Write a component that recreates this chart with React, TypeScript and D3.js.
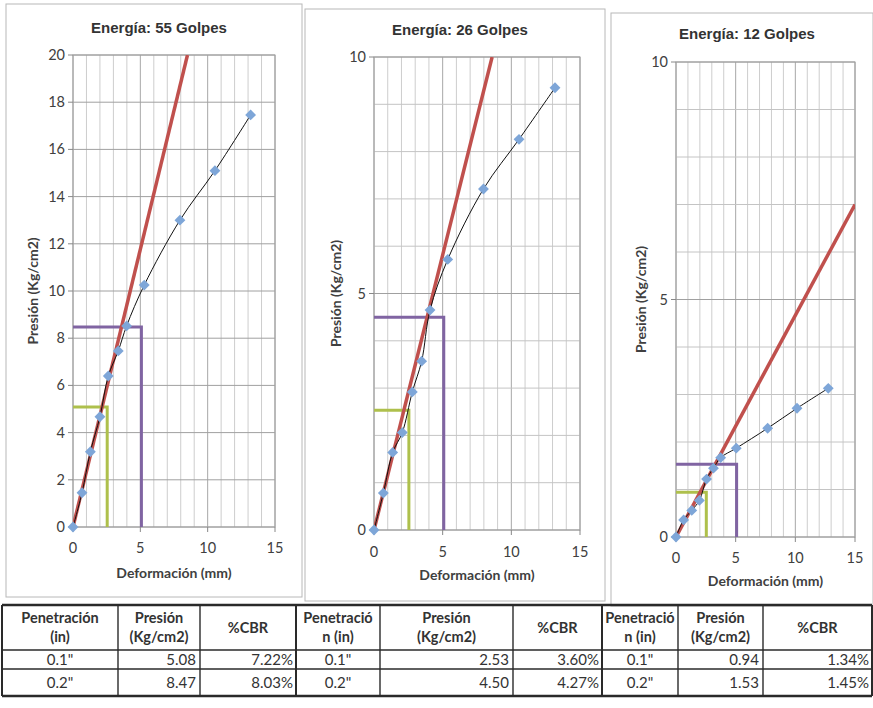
import React from "react";
import * as d3 from "d3";

// ---------- data ----------
const xTicks = [0, 5, 10, 15];

const titles = ["Energía: 55 Golpes", "Energía: 26 Golpes", "Energía: 12 Golpes"];

const def55 = [0, 0.67, 1.29, 2.0, 2.62, 3.36, 3.98, 5.29, 7.94, 10.54, 13.19];
const pres55 = [0, 1.45, 3.19, 4.67, 6.4, 7.46, 8.52, 10.25, 13.0, 15.1, 17.46];

const def26 = [0, 0.68, 1.36, 2.06, 2.79, 3.47, 4.08, 5.37, 7.97, 10.56, 13.18];
const pres26 = [0, 0.78, 1.64, 2.06, 2.92, 3.57, 4.65, 5.72, 7.21, 8.26, 9.35];

const def12 = [0, 0.64, 1.32, 1.96, 2.56, 3.14, 3.74, 5.05, 7.68, 10.14, 12.76];
const pres12 = [0, 0.36, 0.56, 0.77, 1.22, 1.45, 1.67, 1.87, 2.29, 2.71, 3.13];

// tangent (corrected) lines: x and y of end points
const tanX55 = [0, 8.5];
const tanY55 = [0, 20];
const tanX26 = [0, 8.6];
const tanY26 = [0, 10];
const tanX12 = [0, 15];
const tanY12 = [0, 7.0];

// penetration in mm for 0.1" and 0.2"
const penMm = [2.54, 5.08];
const penIn = ['0.1"', '0.2"'];

const tblPres55 = [5.08, 8.47];
const tblCbr55 = ["7.22%", "8.03%"];
const tblPres26 = [2.53, 4.5];
const tblCbr26 = ["3.60%", "4.27%"];
const tblPres12 = [0.94, 1.53];
const tblCbr12 = ["1.34%", "1.45%"];

const yTicks55 = [0, 2, 4, 6, 8, 10, 12, 14, 16, 18, 20];
const yTicks10 = [0, 5, 10];

// ---------- layout ----------
const W = 873;
const H = 708;
const FONT = "Lato, 'Open Sans', sans-serif";
const TITLE_FONT = "'Liberation Sans', Arial, sans-serif";

type ChartCfg = {
  title: string;
  xs: number[];
  ys: number[];
  tx: number[];
  ty: number[];
  pres: number[];
  yMax: number;
  yTicks: number[];
  yGridStep: number;
  plot: { l: number; r: number; t: number; b: number };
  frame: { x: number; y: number; w: number; h: number };
  titleY: number;
  xLabY: number;
  xTitleY: number;
  yTitleX: number;
};

const charts: ChartCfg[] = [
  {
    title: titles[0], xs: def55, ys: pres55, tx: tanX55, ty: tanY55, pres: tblPres55,
    yMax: 20, yTicks: yTicks55, yGridStep: 2,
    plot: { l: 73, r: 275, t: 55, b: 527 },
    frame: { x: 6, y: 4, w: 296, h: 593 },
    titleY: 33, xLabY: 553, xTitleY: 578, yTitleX: 33,
  },
  {
    title: titles[1], xs: def26, ys: pres26, tx: tanX26, ty: tanY26, pres: tblPres26,
    yMax: 10, yTicks: yTicks10, yGridStep: 1,
    plot: { l: 374, r: 580, t: 57, b: 530 },
    frame: { x: 305, y: 9, w: 300, h: 592 },
    titleY: 35, xLabY: 557, xTitleY: 580, yTitleX: 336,
  },
  {
    title: titles[2], xs: def12, ys: pres12, tx: tanX12, ty: tanY12, pres: tblPres12,
    yMax: 10, yTicks: yTicks10, yGridStep: 1,
    plot: { l: 676, r: 855, t: 62, b: 537 },
    frame: { x: 611, y: 13, w: 262, h: 593 },
    titleY: 39, xLabY: 563, xTitleY: 586, yTitleX: 641,
  },
];

const RED = "#c0504d";
const PURPLE = "#8064a2";
const GREEN = "#aec04c";
const BLUE = "#7ea6d8";

function Chart({ c }: { c: ChartCfg }) {
  const x = d3.scaleLinear().domain([0, 15]).range([c.plot.l, c.plot.r]);
  const y = d3.scaleLinear().domain([0, c.yMax]).range([c.plot.b, c.plot.t]);
  const xMinor = d3.range(0, 15.001, 1);
  const yMinor = d3.range(0, c.yMax + 0.001, c.yGridStep);
  const pts = c.xs.map((v, i) => [x(v), y(c.ys[i])] as [number, number]);
  const curve = d3.line().curve(d3.curveCatmullRom.alpha(0.5))(pts) || "";
  const tan = d3.line()(c.tx.map((v, i) => [x(v), y(c.ty[i])] as [number, number])) || "";
  const refLine = (k: number) =>
    d3.line()([
      [x(0), y(c.pres[k])],
      [x(penMm[k]), y(c.pres[k])],
      [x(penMm[k]), y(0)],
    ]) || "";
  const cx = (c.plot.l + c.plot.r) / 2;
  const cy = (c.plot.t + c.plot.b) / 2;
  return (
    <g>
      <rect x={c.frame.x} y={c.frame.y} width={c.frame.w} height={c.frame.h} fill="#fff" stroke="#b8b8b8" strokeWidth={1} />
      <text x={(c.frame.x + c.frame.x + c.frame.w) / 2 + 5} y={c.titleY} textAnchor="middle" fontFamily={TITLE_FONT} fontWeight="bold" fontSize={15} fill="#333">
        {c.title}
      </text>
      {xMinor.map((v) => (
        <line key={"vx" + v} x1={x(v)} x2={x(v)} y1={c.plot.t} y2={c.plot.b}
          stroke={v % 5 === 0 ? "#a8a8a8" : "#cdcdcd"} strokeWidth={1} />
      ))}
      {yMinor.map((v) => (
        <line key={"hy" + v} x1={c.plot.l} x2={c.plot.r} y1={y(v)} y2={y(v)}
          stroke={c.yTicks.includes(v) ? "#a0a0a0" : "#c4c4c4"} strokeWidth={1} />
      ))}
      <rect x={c.plot.l} y={c.plot.t} width={c.plot.r - c.plot.l} height={c.plot.b - c.plot.t} fill="none" stroke="#a0a0a0" />
      {c.yTicks.map((v) => (
        <g key={"yt" + v}>
          <line x1={c.plot.l - 5} x2={c.plot.l} y1={y(v)} y2={y(v)} stroke="#888" />
          <text x={c.plot.l - 8} y={y(v)} dy="0.35em" textAnchor="end" fontFamily={FONT} fontSize={14.5} fill="#404040">{v}</text>
        </g>
      ))}
      {xTicks.map((v) => (
        <g key={"xt" + v}>
          <line x1={x(v)} x2={x(v)} y1={c.plot.b} y2={c.plot.b + 5} stroke="#888" />
          <text x={x(v)} y={c.xLabY} textAnchor="middle" fontFamily={FONT} fontSize={14.5} fill="#404040">{v}</text>
        </g>
      ))}
      <text x={cx} y={c.xTitleY} textAnchor="middle" fontFamily={FONT} fontWeight="bold" fontSize={14} fill="#404040">Deformación (mm)</text>
      <text transform={`translate(${c.yTitleX},${cy}) rotate(-90)`} textAnchor="middle" dy="0.35em" fontFamily={FONT} fontWeight="bold" fontSize={14} fill="#404040">Presión (Kg/cm2)</text>
      <path d={refLine(0)} fill="none" stroke={GREEN} strokeWidth={3} />
      <path d={refLine(1)} fill="none" stroke={PURPLE} strokeWidth={3} />
      <g clipPath={`url(#clip${c.plot.l})`}>
        <path d={tan} fill="none" stroke={RED} strokeWidth={3.5} />
      </g>
      <clipPath id={`clip${c.plot.l}`}>
        <rect x={c.plot.l} y={c.plot.t} width={c.plot.r - c.plot.l} height={c.plot.b - c.plot.t} />
      </clipPath>
      <path d={curve} fill="none" stroke="#111" strokeWidth={1} />
      {pts.map((p, i) => (
        <path key={"pt" + i} d={d3.symbol(d3.symbolDiamond2, 75)() || ""} transform={`translate(${p[0]},${p[1]})`} fill={BLUE} />
      ))}
    </g>
  );
}

// table layout
const colEdges = [2, 118, 200, 296, 380, 513, 602, 678, 763, 872];
const rowEdges = [605, 650, 669, 696];

function Table() {
  const groups = [
    { pres: tblPres55, cbr: tblCbr55, hdr: ["Penetración", "(in)"] },
    { pres: tblPres26, cbr: tblCbr26, hdr: ["Penetració", "n (in)"] },
    { pres: tblPres12, cbr: tblCbr12, hdr: ["Penetració", "n (in)"] },
  ];
  const FS = 15;
  const HFS = 14.5;
  const cells: React.ReactNode[] = [];
  groups.forEach((g, gi) => {
    const c0 = gi * 3;
    const mid = (a: number, b: number) => (colEdges[a] + colEdges[b]) / 2;
    const hy1 = 623;
    const hy2 = 642;
    cells.push(
      <text key={`h1${gi}`} x={mid(c0, c0 + 1)} y={hy1} textAnchor="middle" fontFamily={FONT} fontWeight="bold" fontSize={HFS} fill="#333">{g.hdr[0]}</text>,
      <text key={`h2${gi}`} x={mid(c0, c0 + 1)} y={hy2} textAnchor="middle" fontFamily={FONT} fontWeight="bold" fontSize={HFS} fill="#333">{g.hdr[1]}</text>,
      <text key={`h3${gi}`} x={mid(c0 + 1, c0 + 2)} y={hy1} textAnchor="middle" fontFamily={FONT} fontWeight="bold" fontSize={HFS} fill="#333">Presión</text>,
      <text key={`h4${gi}`} x={mid(c0 + 1, c0 + 2)} y={hy2} textAnchor="middle" fontFamily={FONT} fontWeight="bold" fontSize={HFS} fill="#333">(Kg/cm2)</text>,
      <text key={`h5${gi}`} x={mid(c0 + 2, c0 + 3)} y={(rowEdges[0] + rowEdges[1]) / 2} dy="0.35em" textAnchor="middle" fontFamily={FONT} fontWeight="bold" fontSize={HFS} fill="#333">%CBR</text>
    );
    [0, 1].forEach((r) => {
      const ty = (rowEdges[r + 1] + rowEdges[r + 2]) / 2;
      cells.push(
        <text key={`p${gi}${r}`} x={mid(c0, c0 + 1)} y={ty} dy="0.35em" textAnchor="middle" fontFamily={FONT} fontSize={FS} fill="#333">{penIn[r]}</text>,
        <text key={`v${gi}${r}`} x={colEdges[c0 + 2] - 4} y={ty} dy="0.35em" textAnchor="end" fontFamily={FONT} fontSize={FS} fill="#333">{g.pres[r].toFixed(2)}</text>,
        <text key={`c${gi}${r}`} x={colEdges[c0 + 3] - 3} y={ty} dy="0.35em" textAnchor="end" fontFamily={FONT} fontSize={FS} fill="#333">{g.cbr[r]}</text>
      );
    });
  });
  return (
    <g>
      {rowEdges.map((ry, i) => (
        <line key={"r" + i} x1={colEdges[0]} x2={colEdges[colEdges.length - 1]} y1={ry} y2={ry} stroke="#2a2a2a" strokeWidth={i === 0 || i === rowEdges.length - 1 ? 2.5 : 1.6} />
      ))}
      {colEdges.map((cxv, i) => (
        <line key={"c" + i} x1={cxv} x2={cxv} y1={rowEdges[0]} y2={rowEdges[rowEdges.length - 1]} stroke="#2a2a2a" strokeWidth={i % 3 === 0 ? 2 : 1.4} />
      ))}
      {cells}
    </g>
  );
}

export default function App() {
  return (
    <svg width={W} height={H} style={{ position: "absolute", left: 0, top: 0, background: "#fff" }}>
      <rect width={W} height={H} fill="#fff" />
      {charts.map((c, i) => (
        <Chart key={i} c={c} />
      ))}
      <Table />
    </svg>
  );
}
